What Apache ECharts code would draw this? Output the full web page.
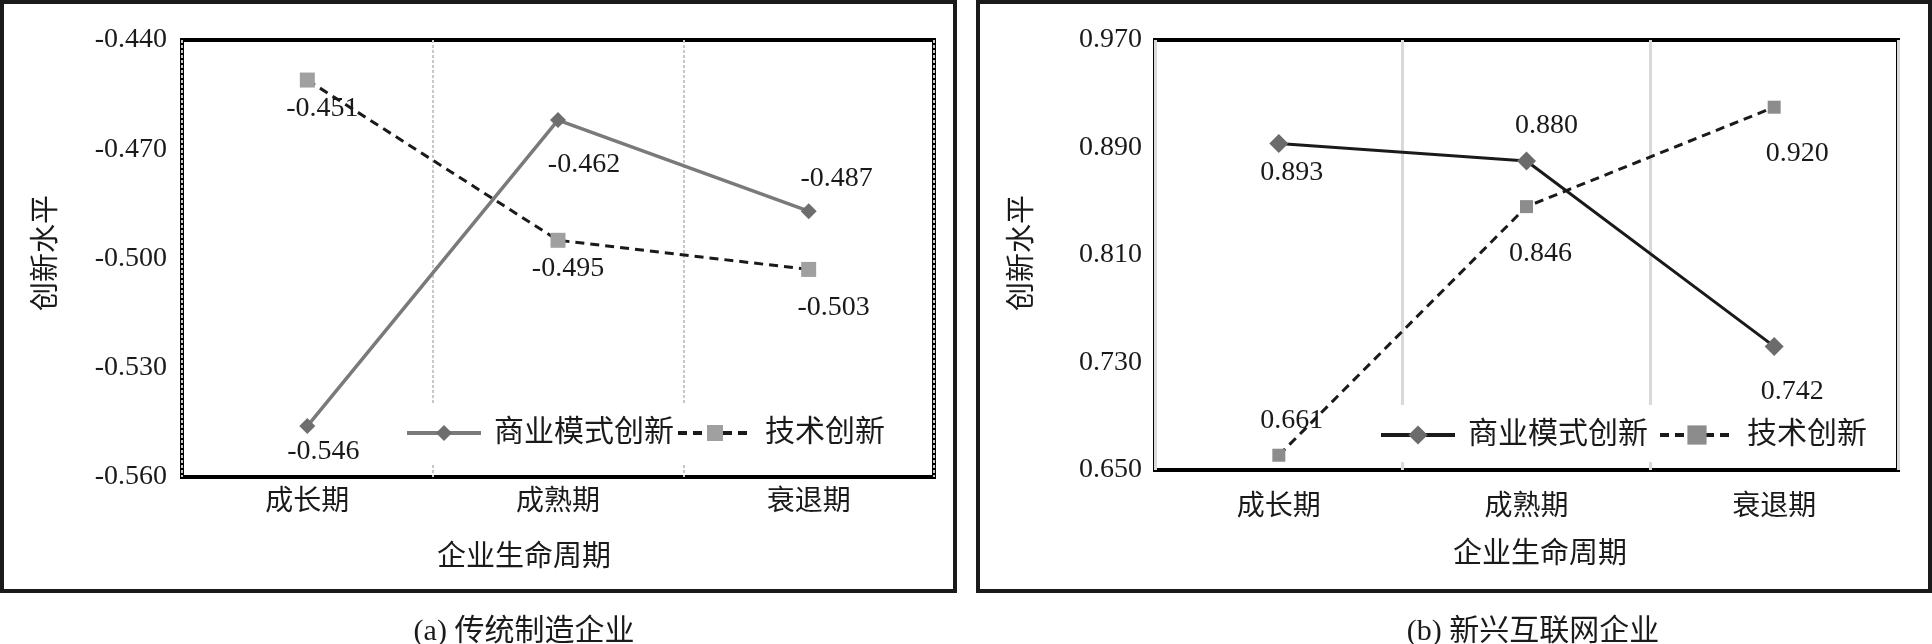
<!DOCTYPE html>
<html>
<head>
<meta charset="utf-8">
<script src="https://cdn.jsdelivr.net/npm/echarts@6/dist/echarts.min.js"></script>
<style>
html,body{margin:0;padding:0;background:#fff;}
#c{width:1932px;height:644px;}
</style>
</head>
<body>
<div id="c"></div>
<script>
// ---- data ----
const categories = ['成长期', '成熟期', '衰退期'];
const seriesNames = ['商业模式创新', '技术创新'];
const bizA = [-0.546, -0.462, -0.487];
const techA = [-0.451, -0.495, -0.503];
const bizB = [0.893, 0.880, 0.742];
const techB = [0.661, 0.846, 0.920];
const yRangeA = [-0.56, -0.44, 0.03];
const yRangeB = [0.65, 0.97, 0.08];
const xTitle = '企业生命周期';
const yTitle = '创新水平';
const captions = ['(a) 传统制造企业', '(b) 新兴互联网企业'];

// ---- label offsets (style) ----
const offBizA = [[16, 26], [26, 45], [28, -33]];
const offTechA = [[15, 29], [10, 28], [25, 38]];
const offBizB = [[13, 29], [20, -35], [18, 45]];
const offTechB = [[13, -35], [14, 47], [23, 46]];

const FONT = '"Liberation Serif", "Noto Sans CJK SC", serif';
const TXT = '#1a1a1a';

function withLabels(vals, offs) {
  return vals.map((v, i) => ({ value: v, label: { offset: offs[i] } }));
}
const labelBase = {
  show: true, position: 'inside', fontFamily: FONT, fontSize: 28, color: TXT,
  formatter: p => p.value.toFixed(3)
};

const chart = echarts.init(document.getElementById('c'), null, { renderer: 'canvas' });

function yAxis(idx, r, margin) {
  return {
    type: 'value', gridIndex: idx, min: r[0], max: r[1], interval: r[2],
    axisLine: { show: false }, axisTick: { show: false }, splitLine: { show: false },
    axisLabel: { fontFamily: FONT, fontSize: 28, color: TXT, margin: margin, formatter: v => v.toFixed(3) }
  };
}
function xAxis(idx, split, margin) {
  return {
    type: 'category', gridIndex: idx, data: categories, boundaryGap: true,
    axisLine: { show: false }, axisTick: { show: false },
    splitLine: { show: true, lineStyle: split },
    axisLabel: { fontFamily: FONT, fontSize: 28, color: TXT, margin: margin }
  };
}

const option = {
  animation: false,
  backgroundColor: '#fff',
  grid: [
    { left: 182, top: 40, width: 752, height: 437, show: true, borderColor: '#000', borderWidth: 4, backgroundColor: 'transparent' },
    { left: 1155, top: 40, width: 743, height: 430, show: true, borderColor: '#000', borderWidth: 4, backgroundColor: 'transparent' }
  ],
  xAxis: [
    xAxis(0, { color: '#c8c8c8', width: 2, type: [3, 2] }, 12),
    xAxis(1, { color: '#d9d9d9', width: 3, type: 'solid' }, 24)
  ],
  yAxis: [yAxis(0, yRangeA, 15), yAxis(1, yRangeB, 13)],
  legend: [
    {
      left: 400, top: 405, padding: [13, 5, 17, 5], itemGap: 2, itemWidth: 74, itemHeight: 20,
      backgroundColor: '#fff', selectedMode: false,
      textStyle: { fontFamily: FONT, fontSize: 30, color: TXT, padding: [0, 0, 0, 8] },
      data: [
        { name: seriesNames[0], itemStyle: { color: '#6e6e6e', borderWidth: 0 }, lineStyle: { color: '#7a7a7a', width: 4, type: 'solid' } },
        { name: seriesNames[1], itemStyle: { color: '#a0a0a0', borderWidth: 0 }, lineStyle: { color: '#1a1a1a', width: 4, type: [9, 6] } }
      ]
    },
    {
      left: 1374, top: 405, padding: [15, 5, 12, 5], itemGap: 10, itemWidth: 74, itemHeight: 24,
      backgroundColor: '#fff', selectedMode: false,
      textStyle: { fontFamily: FONT, fontSize: 30, color: TXT, padding: [0, 0, 0, 8] },
      data: [
        { name: seriesNames[0], itemStyle: { color: '#6b6b6b', borderWidth: 0 }, lineStyle: { color: '#1a1a1a', width: 4, type: 'solid' } },
        { name: seriesNames[1], itemStyle: { color: '#8c8c8c', borderWidth: 0 }, lineStyle: { color: '#1a1a1a', width: 4, type: [9, 6] } }
      ]
    }
  ],
  series: [
    {
      name: seriesNames[0], type: 'line', xAxisIndex: 0, yAxisIndex: 0,
      data: withLabels(bizA, offBizA), symbol: 'diamond', symbolSize: 16,
      lineStyle: { color: '#7a7a7a', width: 3.5 }, itemStyle: { color: '#6e6e6e' },
      label: labelBase, z: 3
    },
    {
      name: seriesNames[1], type: 'line', xAxisIndex: 0, yAxisIndex: 0,
      data: withLabels(techA, offTechA), symbol: 'rect', symbolSize: 15,
      lineStyle: { color: '#1a1a1a', width: 3, type: [9, 6] }, itemStyle: { color: '#a0a0a0' },
      label: labelBase, z: 3
    },
    {
      name: seriesNames[0], type: 'line', xAxisIndex: 1, yAxisIndex: 1,
      data: withLabels(bizB, offBizB), symbol: 'diamond', symbolSize: 19,
      lineStyle: { color: '#1a1a1a', width: 3 }, itemStyle: { color: '#6b6b6b' },
      label: labelBase, z: 3
    },
    {
      name: seriesNames[1], type: 'line', xAxisIndex: 1, yAxisIndex: 1,
      data: withLabels(techB, offTechB), symbol: 'rect', symbolSize: 13,
      lineStyle: { color: '#1a1a1a', width: 3, type: [9, 6] }, itemStyle: { color: '#8c8c8c' },
      label: labelBase, z: 3
    }
  ],
  graphic: [
    { type: 'rect', shape: { x: 2, y: 2, width: 953, height: 589 }, style: { fill: 'none', stroke: '#1a1a1a', lineWidth: 4 }, z: 10 },
    { type: 'rect', shape: { x: 978, y: 2, width: 952, height: 589 }, style: { fill: 'none', stroke: '#1a1a1a', lineWidth: 4 }, z: 10 },
    { type: 'text', x: 524, y: 558, style: { text: xTitle, fontFamily: FONT, fontSize: 29, fill: TXT, align: 'center', verticalAlign: 'middle' } },
    { type: 'text', x: 1540, y: 555, style: { text: xTitle, fontFamily: FONT, fontSize: 29, fill: TXT, align: 'center', verticalAlign: 'middle' } },
    { type: 'text', x: 47, y: 253, rotation: Math.PI / 2, style: { text: yTitle, fontFamily: FONT, fontSize: 29, fill: TXT, align: 'center', verticalAlign: 'middle' } },
    { type: 'text', x: 1023, y: 253, rotation: Math.PI / 2, style: { text: yTitle, fontFamily: FONT, fontSize: 29, fill: TXT, align: 'center', verticalAlign: 'middle' } },
    { type: 'text', x: 524, y: 632, style: { text: captions[0], fontFamily: FONT, fontSize: 30, fill: TXT, align: 'center', verticalAlign: 'middle' } },
    { type: 'text', x: 1533, y: 632, style: { text: captions[1], fontFamily: FONT, fontSize: 30, fill: TXT, align: 'center', verticalAlign: 'middle' } }
  ]
};
chart.setOption(option);
</script>
</body>
</html>
